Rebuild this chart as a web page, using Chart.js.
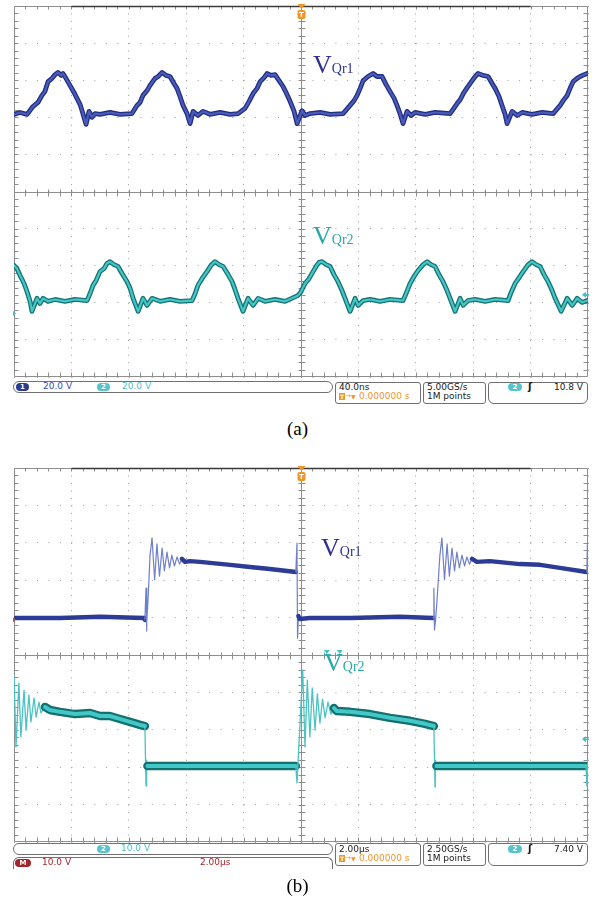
<!DOCTYPE html>
<html>
<head>
<meta charset="utf-8">
<script src="https://cdn.jsdelivr.net/npm/chart.js@4.4.1/dist/chart.umd.min.js"></script>
<style>
  html, body { margin: 0; padding: 0; background: #fff; }
  #page { position: relative; width: 595px; height: 905px; overflow: hidden; }
  canvas { position: absolute; left: 0; }
  .lbl { position: absolute; font-family: "Liberation Serif", "Times New Roman", serif; font-size: 26px; line-height: 26px; white-space: nowrap; }
  .lbl span { font-size: 14px; line-height: 14px; }
  .ch1 { color: #2e3192; }
  .ch2 { color: #27a9a9; }
  .box { position: absolute; box-sizing: border-box; border: 1px solid #707070; border-radius: 3px; }
  .st { position: absolute; font-family: "DejaVu Sans", sans-serif; font-size: 9px; line-height: 9px; white-space: nowrap; color: #1a1a1a; }
  .pill { position: absolute; height: 8px; border-radius: 4px; color: #fff; font-family: "DejaVu Sans", sans-serif; font-size: 7px; line-height: 8px; text-align: center; font-weight: bold; }
  .org { color: #f0952a; }
  .tbox { position: absolute; width: 6px; height: 7px; background: #f0952a; color: #fff; font: bold 6px/7px "DejaVu Sans", sans-serif; text-align: center; }
  .cap { position: absolute; left: 0; width: 595px; text-align: center; font-family: "Liberation Serif", "Times New Roman", serif; font-size: 19px; line-height: 19px; }
</style>
</head>
<body>
<div id="page">
  <canvas id="scopeA" width="595" height="381" style="top:0"></canvas>
  <canvas id="scopeB" width="595" height="384" style="top:462px"></canvas>

  <div class="lbl ch1" style="left:313px;top:52px">V<span>Qr1</span></div>
  <div class="lbl ch2" style="left:313px;top:223px">V<span>Qr2</span></div>
  <div class="lbl ch1" style="left:321px;top:535px">V<span>Qr1</span></div>
  <div class="lbl ch2" style="left:324px;top:650px">V<span>Qr2</span></div>

  <!-- status bar (a) -->
  <div class="box" style="left:13px;top:381px;width:320px;height:12px;border-radius:6px"></div>
  <div class="pill" style="left:16px;top:383px;width:13px;background:#2e3a8e">1</div>
  <div class="st" style="left:43px;top:382px;color:#3b4cb0">20.0 V</div>
  <div class="pill" style="left:97px;top:383px;width:13px;background:#55c5cd">2</div>
  <div class="st" style="left:122px;top:382px;color:#4cc0c8">20.0 V</div>

  <div class="box" style="left:335px;top:382px;width:86px;height:22px"></div>
  <div class="st" style="left:339px;top:383px">40.0ns</div>
  <div class="tbox" style="left:339px;top:393px">T</div>
  <div class="st org" style="left:345px;top:392px;font-size:7px">→</div>
  <div class="st org" style="left:351px;top:392px;font-size:6px">▼</div>
  <div class="st org" style="left:359px;top:392px">0.000000 s</div>

  <div class="box" style="left:423px;top:382px;width:63px;height:22px"></div>
  <div class="st" style="left:427px;top:383px">5.00GS/s</div>
  <div class="st" style="left:427px;top:392px">1M points</div>

  <div class="box" style="left:488px;top:382px;width:100px;height:22px;border-radius:3px 3px 6px 6px"></div>
  <div class="pill" style="left:508px;top:383px;width:14px;background:#55c5cd">2</div>
  <div class="st" style="left:528px;top:382px;font-weight:bold;font-size:10px">ʃ</div>
  <div class="st" style="left:540px;top:383px;width:43px;text-align:right">10.8 V</div>

  <div class="cap" style="top:419px">(a)</div>

  <!-- status bar (b) -->
  <div class="box" style="left:13px;top:843px;width:320px;height:12px;border-radius:6px"></div>
  <div class="pill" style="left:97px;top:845px;width:13px;background:#55c5cd">2</div>
  <div class="st" style="left:121px;top:844px;color:#4cc0c8">10.0 V</div>
  <div class="box" style="left:13px;top:857px;width:320px;height:12px;border-radius:6px 6px 0 0;border-bottom:none"></div>
  <div class="pill" style="left:15px;top:859px;width:16px;background:#a3262c">M</div>
  <div class="st" style="left:42px;top:858px;color:#a3262c">10.0 V</div>
  <div class="st" style="left:200px;top:858px;color:#a3262c">2.00µs</div>

  <div class="box" style="left:335px;top:843px;width:86px;height:23px"></div>
  <div class="st" style="left:339px;top:845px">2.00µs</div>
  <div class="tbox" style="left:339px;top:855px">T</div>
  <div class="st org" style="left:345px;top:854px;font-size:7px">→</div>
  <div class="st org" style="left:351px;top:854px;font-size:6px">▼</div>
  <div class="st org" style="left:359px;top:854px">0.000000 s</div>

  <div class="box" style="left:423px;top:843px;width:63px;height:23px"></div>
  <div class="st" style="left:427px;top:845px">2.50GS/s</div>
  <div class="st" style="left:427px;top:854px">1M points</div>

  <div class="box" style="left:488px;top:843px;width:100px;height:23px;border-radius:3px 3px 6px 6px"></div>
  <div class="pill" style="left:508px;top:845px;width:14px;background:#55c5cd">2</div>
  <div class="st" style="left:528px;top:844px;font-weight:bold;font-size:10px">ʃ</div>
  <div class="st" style="left:540px;top:845px;width:43px;text-align:right">7.40 V</div>

  <div class="cap" style="top:876px">(b)</div>
</div>

<script>
// (a) 40.0 ns/div, time in ns, trace level in screen divisions from centre
const ch1aT = [0, 4.2, 9.1, 13.2, 16.7, 19.5, 21.6, 23.7, 26.5, 28.6,
  30.7, 32.8, 34.1, 36.2, 39.0, 41.8, 43.9, 46.0, 47.4, 50.2,
  52.3, 54.4, 56.5, 59.9, 66.9, 73.9, 82.2, 85.7, 87.8, 89.9,
  92.7, 94.8, 98.3, 100.4, 103.2, 105.9, 108.7, 111.5, 113.6, 115.7,
  117.8, 120.6, 122.7, 124.8, 128.2, 131.7, 136.6, 143.6, 150.6, 156.1,
  161.0, 163.8, 166.6, 169.4, 171.5, 174.3, 176.3, 179.1, 181.9, 184.7,
  187.5, 190.3, 192.4, 195.2, 197.3, 200.7, 202.8, 206.3, 213.3, 220.3,
  229.3, 234.2, 237.0, 239.1, 241.2, 243.3, 246.7, 250.2, 253.0, 256.5,
  259.3, 262.0, 264.9, 266.9, 269.0, 271.1, 273.9, 276.7, 279.5, 286.5,
  293.5, 303.9, 308.8, 311.0, 313.1, 315.8, 319.3, 321.4, 323.4, 326.9,
  330.4, 333.2, 335.3, 338.0, 340.1, 342.2, 343.6, 347.1, 350.6, 354.1,
  361.0, 368.0, 375.7, 380.6, 382.7, 385.5, 387.5, 389.6, 392.4, 394.5,
  397.3, 399.4];
const ch1aV = [2.08, 2.13, 2.08, 2.29, 2.40, 2.59, 2.70, 2.96, 3.05, 3.15,
  3.21, 3.13, 3.18, 3.05, 2.86, 2.67, 2.51, 2.35, 2.18, 1.81,
  2.16, 2.00, 2.10, 2.08, 2.13, 2.08, 2.10, 2.32, 2.40, 2.59,
  2.72, 2.86, 3.05, 3.10, 3.21, 3.13, 3.10, 2.91, 2.78, 2.56,
  2.32, 2.10, 1.83, 2.16, 2.05, 2.16, 2.08, 2.13, 2.08, 2.10,
  2.24, 2.43, 2.64, 2.78, 2.96, 3.07, 3.18, 3.13, 3.15, 2.99,
  2.83, 2.61, 2.43, 2.16, 1.83, 2.18, 2.05, 2.10, 2.13, 2.08,
  2.10, 2.32, 2.45, 2.59, 2.78, 2.99, 3.10, 3.18, 3.10, 3.10,
  2.88, 2.70, 2.51, 2.32, 2.10, 1.83, 2.16, 2.05, 2.13, 2.08,
  2.13, 2.10, 2.37, 2.48, 2.64, 2.80, 2.99, 3.10, 3.18, 3.13,
  3.10, 2.91, 2.78, 2.56, 2.32, 2.08, 1.83, 2.16, 2.05, 2.13,
  2.08, 2.13, 2.10, 2.32, 2.45, 2.59, 2.78, 2.96, 3.05, 3.10,
  3.15, 3.18];

const ch2aT = [0, 2.1, 4.2, 7.0, 9.1, 11.2, 12.5, 16.0, 18.1, 20.2,
  23.7, 28.6, 35.5, 42.5, 50.9, 53.0, 55.1, 57.2, 59.9, 62.7,
  64.8, 66.9, 69.7, 72.5, 75.3, 78.8, 80.9, 83.0, 86.5, 89.9,
  92.7, 96.2, 101.8, 108.7, 115.7, 124.1, 126.2, 128.2, 131.0, 134.5,
  137.3, 140.1, 142.9, 145.7, 149.2, 152.0, 154.0, 156.1, 159.6, 163.1,
  166.6, 170.1, 174.9, 181.9, 188.9, 198.0, 200.0, 202.8, 205.6, 208.4,
  210.5, 212.6, 214.7, 217.5, 220.3, 223.0, 225.8, 228.6, 230.7, 234.2,
  237.7, 239.8, 243.3, 248.1, 255.1, 262.0, 271.1, 273.2, 276.0, 278.8,
  281.6, 285.1, 287.9, 290.6, 293.4, 296.2, 299.0, 301.8, 303.9, 307.4,
  310.9, 313.0, 316.4, 321.3, 328.3, 335.3, 344.3, 346.4, 349.2, 352.0,
  354.8, 358.3, 361.0, 363.8, 366.6, 369.4, 372.2, 375.0, 377.1, 381.3,
  385.5, 389.0, 392.4, 395.9, 399.4];
const ch2aV = [-1.99, -2.08, -2.26, -2.48, -2.70, -2.96, -3.23, -2.88, -3.02, -2.88,
  -2.96, -2.91, -2.96, -2.91, -2.94, -2.75, -2.53, -2.40, -2.16, -2.08,
  -1.94, -1.89, -1.97, -2.02, -2.21, -2.43, -2.61, -2.88, -3.23, -2.88,
  -3.07, -2.88, -2.96, -2.91, -2.96, -2.94, -2.75, -2.53, -2.35, -2.16,
  -1.99, -1.89, -1.97, -2.02, -2.24, -2.43, -2.64, -2.88, -3.23, -2.88,
  -3.07, -2.88, -2.96, -2.91, -2.96, -2.80, -2.70, -2.48, -2.35, -2.16,
  -2.02, -1.91, -1.89, -1.97, -2.02, -2.24, -2.43, -2.67, -2.88, -3.23,
  -2.88, -3.07, -2.94, -2.91, -2.96, -2.91, -2.94, -2.75, -2.48, -2.29,
  -2.13, -1.97, -1.89, -1.97, -2.02, -2.24, -2.43, -2.67, -2.88, -3.23,
  -2.88, -3.07, -2.94, -2.91, -2.96, -2.91, -2.94, -2.72, -2.48, -2.32,
  -2.16, -1.97, -1.89, -1.97, -2.02, -2.24, -2.43, -2.67, -2.88, -3.23,
  -2.88, -3.07, -2.88, -2.99, -2.94];

// (b) 2.00 us/div, time in us
const ch1bT = [0, 1.60, 3.00, 4.53, 4.56, 4.60, 4.62, 4.63, 4.67, 4.74,
  4.81, 4.90, 4.98, 5.07, 5.16, 5.24, 5.33, 5.42, 5.50, 5.59,
  5.68, 5.77, 5.85, 5.96, 6.13, 6.48, 7.53, 8.22, 8.92, 9.82,
  9.86, 9.88, 9.91, 9.96, 10.31, 11.71, 13.45, 14.60, 14.63, 14.65,
  14.69, 14.74, 14.84, 14.91, 15.00, 15.09, 15.17, 15.26, 15.35, 15.43,
  15.52, 15.61, 15.70, 15.78, 15.87, 15.96, 16.13, 16.58, 17.63, 18.33,
  19.02, 19.96, 19.98, 20.00];
const ch1bV = [0.99, 0.99, 1.02, 0.99, 0.94, 1.79, 0.64, 0.88, 1.47, 2.67,
  3.13, 2.01, 2.97, 2.11, 2.86, 2.25, 2.75, 2.33, 2.67, 2.38,
  2.62, 2.43, 2.57, 2.49, 2.51, 2.49, 2.41, 2.35, 2.30, 2.22,
  2.99, 0.45, 1.04, 0.96, 0.99, 0.99, 1.02, 0.99, 1.79, 0.67,
  0.94, 1.47, 2.67, 3.13, 2.01, 2.97, 2.11, 2.86, 2.25, 2.75,
  2.33, 2.67, 2.38, 2.62, 2.43, 2.57, 2.49, 2.51, 2.43, 2.41,
  2.33, 2.22, 2.99, 0.45];

const ch2bT = [0, 0.07, 0.17, 0.24, 0.35, 0.42, 0.52, 0.59, 0.70, 0.77,
  0.87, 0.94, 1.08, 1.25, 1.60, 2.13, 2.65, 3.00, 3.34, 3.69,
  4.04, 4.39, 4.56, 4.60, 4.62, 4.65, 5.09, 6.48, 8.22, 9.82,
  9.86, 10.06, 10.14, 10.22, 10.31, 10.39, 10.49, 10.57, 10.66, 10.75,
  10.84, 10.94, 11.04, 11.15, 11.25, 11.71, 12.40, 13.10, 13.80, 14.32,
  14.63, 14.67, 14.68, 14.72, 16.24, 18.33, 19.93, 19.96, 20.00];
const ch2bV = [-0.53, -2.46, -0.75, -2.19, -0.94, -2.01, -1.07, -1.79, -1.15, -1.66,
  -1.26, -1.55, -1.39, -1.47, -1.52, -1.58, -1.55, -1.63, -1.63, -1.71,
  -1.79, -1.87, -1.90, -3.50, -2.81, -2.97, -2.97, -2.97, -2.97, -2.97,
  -3.42, -0.40, -2.46, -0.67, -2.19, -0.88, -2.01, -1.04, -1.82, -1.18,
  -1.68, -1.26, -1.58, -1.42, -1.50, -1.52, -1.58, -1.68, -1.76, -1.84,
  -1.90, -3.53, -2.81, -2.97, -2.97, -2.97, -2.97, -3.50, -2.81];

function pts(ts, vs) {
  return ts.map((t, i) => ({ x: t, y: vs[i] }));
}

// graticule: frame, centre cross, minor ticks, trigger marker
const scopeGrid = {
  id: 'scopeGrid',
  beforeDatasetsDraw(chart) {
    const { ctx, chartArea: a, scales: { x, y } } = chart;
    const cx = Math.round(x.getPixelForValue((x.min + x.max) / 2)) + 0.5;
    const cy = Math.round(y.getPixelForValue(0)) + 0.5;
    const L = Math.round(a.left) + 0.5, R = Math.round(a.right) - 0.5;
    const T = Math.round(a.top) + 0.5, B = Math.round(a.bottom) - 0.5;
    ctx.save();
    ctx.lineWidth = 1;
    ctx.strokeStyle = '#8e8e8e';
    ctx.beginPath();
    ctx.rect(L, T, R - L, B - T);
    ctx.moveTo(L, cy); ctx.lineTo(R, cy);
    ctx.moveTo(cx, T); ctx.lineTo(cx, B);
    for (let i = 1; i < 50; i++) {
      const px = Math.round(x.getPixelForValue(x.min + (x.max - x.min) * i / 50)) + 0.5;
      ctx.moveTo(px, B); ctx.lineTo(px, B - 4);
      ctx.moveTo(px, T); ctx.lineTo(px, T + 3);
      ctx.moveTo(px, cy - 3); ctx.lineTo(px, cy + 4);
      const py = Math.round(y.getPixelForValue(y.min + (y.max - y.min) * i / 50)) + 0.5;
      ctx.moveTo(L, py); ctx.lineTo(L + 4, py);
      ctx.moveTo(R, py); ctx.lineTo(R - 4, py);
      ctx.moveTo(cx - 3, py); ctx.lineTo(cx + 4, py);
    }
    ctx.stroke();
    ctx.strokeStyle = '#3a3a3a';
    ctx.lineWidth = 1.5;
    ctx.beginPath();
    ctx.moveTo(x.getPixelForValue(x.min + (x.max - x.min) * 0.1), T);
    ctx.lineTo(x.getPixelForValue(x.min + (x.max - x.min) * 0.9), T);
    ctx.stroke();
    ctx.restore();
  },
  afterDatasetsDraw(chart, args, opts) {
    const { ctx, chartArea: a, scales: { x, y } } = chart;
    const cx = Math.round(x.getPixelForValue((x.min + x.max) / 2)) + 0.5;
    ctx.save();
    ctx.fillStyle = '#f0952a';
    ctx.beginPath();
    ctx.moveTo(cx - 4, a.top - 2); ctx.lineTo(cx + 4, a.top - 2); ctx.lineTo(cx, a.top + 3);
    ctx.fill();
    ctx.beginPath();
    ctx.roundRect(cx - 4, a.top + 4, 8, 9, 2);
    ctx.fill();
    ctx.fillStyle = '#fff';
    ctx.font = 'bold 7px "DejaVu Sans"';
    ctx.textAlign = 'center';
    ctx.fillText('T', cx, a.top + 11);
    (opts.marks || []).forEach(m => {
      const px = x.getPixelForValue(m.t), py = y.getPixelForValue(m.v);
      ctx.fillStyle = m.color;
      ctx.beginPath();
      if (m.kind === 'left') {
        ctx.moveTo(px - 6, py); ctx.lineTo(px - 2, py - 3); ctx.lineTo(px - 2, py + 3); ctx.fill();
        ctx.fillRect(px - 3, py - 0.5, 4, 1.5);
      } else if (m.kind === 'edge') {
        ctx.moveTo(px - 1, py - 2.5); ctx.lineTo(px + 2, py); ctx.lineTo(px - 1, py + 2.5); ctx.fill();
      } else if (m.kind === 'down') {
        ctx.moveTo(px - 3, py - 5); ctx.lineTo(px + 3, py - 5); ctx.lineTo(px, py - 1); ctx.fill();
      }
    });
    ctx.restore();
  }
};

const steep = c => Math.abs(c.p1.y - c.p0.y) > 5;
const lineBase = { pointRadius: 0, tension: 0, fill: false, borderJoinStyle: 'round', borderCapStyle: 'round' };

function scopeOptions(xMax, xStep, dashX, dashY, marks, pad) {
  return {
    responsive: false,
    animation: false,
    events: [],
    layout: { padding: pad },
    plugins: { legend: { display: false }, tooltip: { enabled: false }, scopeGrid: { marks: marks } },
    scales: {
      x: {
        type: 'linear', min: 0, max: xMax,
        ticks: { display: false, stepSize: xStep },
        grid: { color: '#9c9c9c', lineWidth: 1, drawTicks: false },
        border: { display: false, dash: dashX }
      },
      y: {
        type: 'linear', min: -5, max: 5,
        ticks: { display: false, stepSize: 1 },
        grid: { color: '#9c9c9c', lineWidth: 1, drawTicks: false },
        border: { display: false, dash: dashY }
      }
    }
  };
}

// Chart.js paints the first dataset last, so each bright core is listed before its dark outline
const traceA1 = pts(ch1aT, ch1aV);
const traceA2 = pts(ch2aT, ch2aV);
new Chart(document.getElementById('scopeA'), {
  type: 'line',
  data: {
    datasets: [
      Object.assign({ label: 'Ch1', data: traceA1, borderColor: '#4b5cb8', borderWidth: 2.2 }, lineBase),
      Object.assign({ label: 'Ch1', data: traceA1, borderColor: '#222e84', borderWidth: 4.8 }, lineBase),
      Object.assign({ label: 'Ch2', data: traceA2, borderColor: '#44c6c6', borderWidth: 2.2 }, lineBase),
      Object.assign({ label: 'Ch2', data: traceA2, borderColor: '#167273', borderWidth: 4.8 }, lineBase)
    ]
  },
  options: scopeOptions(400, 40, [1, 6.42], [1, 10.48], [
    { kind: 'edge', t: 0, v: -3.29, color: '#3ec2c2' },
    { kind: 'left', t: 400, v: -2.78, color: '#3ec2c2' }
  ], { left: 14, top: 6, right: 7, bottom: 4 }),
  plugins: [scopeGrid]
});

const traceB1 = pts(ch1bT, ch1bV);
const traceB2 = pts(ch2bT, ch2bV);
new Chart(document.getElementById('scopeB'), {
  type: 'line',
  data: {
    datasets: [
      Object.assign({
        label: 'Ch1', data: traceB1, borderColor: '#2c3b96', borderWidth: 4.5,
        segment: { borderColor: c => steep(c) ? '#6f7fca' : undefined, borderWidth: c => steep(c) ? 1.2 : undefined }
      }, lineBase),
      Object.assign({
        label: 'Ch2', data: traceB2, borderColor: '#44c7c7', borderWidth: 4,
        segment: { borderColor: c => steep(c) ? 'rgba(0,0,0,0)' : undefined }
      }, lineBase),
      Object.assign({
        label: 'Ch2', data: traceB2, borderColor: '#12706f', borderWidth: 8.5,
        segment: { borderColor: c => steep(c) ? '#4cc3c3' : undefined, borderWidth: c => steep(c) ? 1.3 : undefined }
      }, lineBase)
    ]
  },
  options: scopeOptions(20, 2, [1, 6.48], [1, 10.48], [
    { kind: 'edge', t: 0, v: 0.94, color: '#c0504d' },
    { kind: 'left', t: 20, v: -2.25, color: '#3ec2c2' },
    { kind: 'down', t: 10.9, v: 0, color: '#3ec2c2' },
    { kind: 'down', t: 11.35, v: 0, color: '#3ec2c2' }
  ], { left: 14, top: 6, right: 7, bottom: 4 }),
  plugins: [scopeGrid]
});
</script>
</body>
</html>
